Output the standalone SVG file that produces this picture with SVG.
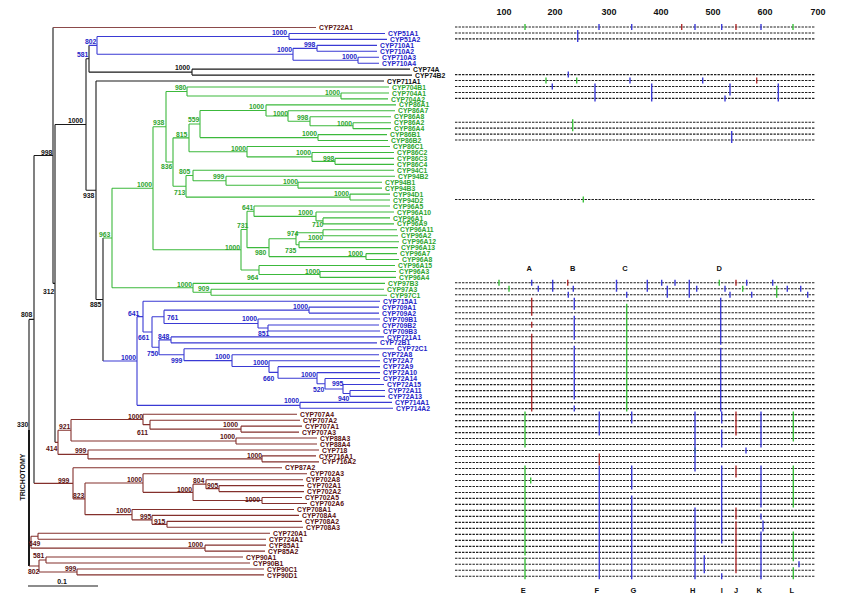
<svg xmlns="http://www.w3.org/2000/svg" width="850" height="599" viewBox="0 0 850 599">
<style>
path{fill:none;stroke-width:1.1}
.k{stroke:#1a1a1a}.b{stroke:#3a3ad4}.g{stroke:#3cb93c}.r{stroke:#84302c}.c{stroke:#8b4a4a}
text{font-family:'Liberation Sans',Arial,sans-serif;font-weight:bold}
.l{font-size:6.8px}.s{font-size:6.8px}
.tb{fill:#2525c8}.tg{fill:#2ea52e}.tr{fill:#5a1010}.tk{fill:#111}
.row{stroke:#1e1e1e;stroke-width:1.5;stroke-dasharray:2.4 1.1}
.mg,.mb,.mr{stroke-width:1.4}
.mg{stroke:#3cc03c}.mb{stroke:#3d3dd8}.mr{stroke:#b03030}
</style>
<rect width="850" height="599" fill="#fff"/>
<g id="connectors">
<path class="k" d="M29,319.4V566 M29,319.4H34 M34,155.5V483.3 M34,155.5H53 M53,27.5V283.4 M53,283.4H55 M55,124.5V442.3 M55,124.5H86 M86,58.7V190.3 M86,58.7H89 M89,45.35V72.13 M89,72.13H192 M192,69.15V75.1 M192,69.15H410 M192,75.1H412 M86,190.3H96 M96,81.05V299.5 M96,81.05H384 M96,299.5H103 M103,238V361"/>
<path class="k" d="M29,430V566" style="stroke-width:2"/>
<path class="c" d="M53,27.5H316"/>
<path class="b" d="M89,45.35H97 M97,36.43V54.28 M97,36.43H289 M289,33.45V39.4 M289,33.45H385 M289,39.4H387 M97,54.28H293 M293,48.33V60.23 M293,48.33H317 M317,45.35V51.3 M317,45.35H377 M317,51.3H377 M293,60.23H358 M358,57.25V63.2 M358,57.25H379 M358,63.2H379"/>
<path class="g" d="M103,238H112 M112,188.23V287.81 M112,188.23H153 M153,126.77V249.7 M153,126.77H166 M166,91.46V162.07 M166,91.46H187 M187,87V95.93 M187,87H389 M187,95.93H341 M341,92.95V98.9 M341,92.95H389 M341,98.9H388 M166,162.07H173 M173,137.85V186.29 M173,137.85H189 M189,124V151.71 M189,124H200 M200,110.43V137.58 M200,110.43H266 M266,104.85V116 M266,104.85H396 M266,116H288 M288,110.8V121.21 M288,110.8H395 M288,121.21H310 M310,116.75V125.68 M310,116.75H391 M310,125.68H353 M353,122.7V128.65 M353,122.7H391 M353,128.65H391 M200,137.58H318 M318,134.6V140.55 M318,134.6H387 M318,140.55H388 M189,151.71H247 M247,146.5V156.91 M247,146.5H390 M247,156.91H312 M312,152.45V161.38 M312,152.45H394 M312,161.38H335 M335,158.4V164.35 M335,158.4H394 M335,164.35H394 M173,186.29H186 M186,175.5V197.08 M186,175.5H193 M193,170.3V180.71 M193,170.3H394 M193,180.71H226 M226,176.25V185.18 M226,176.25H395 M226,185.18H298 M298,182.2V188.15 M298,182.2H382 M298,188.15H382 M186,197.08H350 M350,194.1V200.05 M350,194.1H390 M350,200.05H390 M153,249.7H241 M241,229.43V269.96 M241,229.43H247 M247,211.2V247.65 M247,211.2H254 M254,206V216.41 M254,206H390 M254,216.41H316 M316,211.95V220.88 M316,211.95H394 M316,220.88H323 M323,217.9V223.85 M323,217.9H390 M323,223.85H394 M247,247.65H269 M269,238.73V256.58 M269,238.73H296 M296,232.78V244.68 M296,232.78H323 M323,229.8V235.75 M323,229.8H397 M323,235.75H398 M296,244.68H299 M299,241.7V247.65 M299,241.7H399 M299,247.65H398 M269,256.58H366 M366,253.6V259.55 M366,253.6H397 M366,259.55H399 M241,269.96H259 M259,265.5V274.43 M259,265.5H395 M259,274.43H320 M320,271.45V277.4 M320,271.45H396 M320,277.4H396 M112,287.81H193 M193,283.35V292.28 M193,283.35H385 M193,292.28H211 M211,289.3V295.25 M211,289.3H384 M211,295.25H387"/>
<path class="b" d="M103,361H137 M137,316.63V405.33 M137,316.63H143 M143,301.2V332.06 M143,301.2H380 M143,332.06H152 M152,316.82V347.3 M152,316.82H164 M164,310.13V323.51 M164,310.13H309 M309,307.15V313.1 M309,307.15H379 M309,313.1H379 M164,323.51H258 M258,319.05V327.98 M258,319.05H380 M258,327.98H268 M268,325V330.95 M268,325H379 M268,330.95H380 M152,347.3H159 M159,339.88V354.73 M159,339.88H171 M171,336.9V342.85 M171,336.9H384 M171,342.85H377 M159,354.73H184 M184,348.8V360.65 M184,348.8H394 M184,360.65H232 M232,354.75V366.56 M232,354.75H379 M232,366.56H269 M269,360.7V372.41 M269,360.7H380 M269,372.41H278 M278,366.65V378.18 M278,366.65H380 M278,378.18H317 M317,372.6V383.76 M317,372.6H380 M317,383.76H325 M325,378.55V388.96 M325,378.55H380 M325,388.96H343 M343,384.5V393.43 M343,384.5H384 M343,393.43H350 M350,390.45V396.4 M350,390.45H385 M350,396.4H385 M137,405.33H300 M300,402.35V408.3 M300,402.35H392 M300,408.3H393"/>
<path class="r" d="M55,442.33H58 M58,430.24V454.41 M58,430.24H71 M71,419.46V441.03 M71,419.46H143 M143,414.25V424.66 M143,414.25H297 M143,424.66H150 M150,420.2V429.13 M150,420.2H300 M150,429.13H241 M241,426.15V432.1 M241,426.15H302 M241,432.1H299 M71,441.03H236 M236,438.05V444 M236,438.05H317 M236,444H317 M58,454.41H88 M88,449.95V458.88 M88,449.95H319 M88,458.88H262 M262,455.9V461.85 M262,455.9H316 M262,461.85H319 M34,483.33H73 M73,467.8V498.85 M73,467.8H282 M73,498.85H85 M85,483.05V514.66 M85,483.05H143 M143,473.75V492.34 M143,473.75H307 M143,492.34H193 M193,484.16V500.53 M193,484.16H206 M206,479.7V488.63 M206,479.7H303 M206,488.63H219 M219,485.65V491.6 M219,485.65H304 M219,491.6H304 M193,500.53H262 M262,497.55V503.5 M262,497.55H302 M262,503.5H307 M85,514.66H132 M132,509.45V519.86 M132,509.45H294 M132,519.86H152 M152,515.4V524.33 M152,515.4H299 M152,524.33H167 M167,521.35V527.3 M167,521.35H302 M167,527.3H303 M29,542.18H31 M31,536.23V548.13 M31,536.23H38 M38,533.25V539.2 M38,533.25H270 M38,539.2H266 M31,548.13H205 M205,545.15V551.1 M205,545.15H266 M205,551.1H265 M29,566H39 M39,560.03V571.93 M39,560.03H46 M46,557.05V563 M46,557.05H243 M46,563H250 M39,571.93H77 M77,568.95V574.9 M77,568.95H264 M77,574.9H264"/>
<path class="k" d="M28,586H98"/>
</g>
<g id="leaves-top" class="l">
<text class="tr" x="319" y="30.1">CYP722A1</text>
<text class="tb" x="388" y="36.05">CYP51A1</text>
<text class="tb" x="390" y="42">CYP51A2</text>
<text class="tb" x="380" y="47.95">CYP710A1</text>
<text class="tb" x="380" y="53.9">CYP710A2</text>
<text class="tb" x="382" y="59.85">CYP710A3</text>
<text class="tb" x="382" y="65.8">CYP710A4</text>
<text class="tk" x="413" y="71.75">CYP74A</text>
<text class="tk" x="415" y="77.7">CYP74B2</text>
<text class="tk" x="387" y="83.65">CYP711A1</text>
</g>
<g id="leaves-green" class="l tg">
<text x="392" y="89.6">CYP704B1</text>
<text x="392" y="95.55">CYP704A1</text>
<text x="391" y="101.5">CYP704A2</text>
<text x="399" y="107.45">CYP86A1</text>
<text x="398" y="113.4">CYP86A7</text>
<text x="394" y="119.35">CYP86A8</text>
<text x="394" y="125.3">CYP86A2</text>
<text x="394" y="131.25">CYP86A4</text>
<text x="390" y="137.2">CYP86B1</text>
<text x="391" y="143.15">CYP86B2</text>
<text x="393" y="149.1">CYP86C1</text>
<text x="397" y="155.05">CYP86C2</text>
<text x="397" y="161">CYP86C3</text>
<text x="397" y="166.95">CYP86C4</text>
<text x="397" y="172.9">CYP94C1</text>
<text x="398" y="178.85">CYP94B2</text>
<text x="385" y="184.8">CYP94B1</text>
<text x="385" y="190.75">CYP94B3</text>
<text x="393" y="196.7">CYP94D1</text>
<text x="393" y="202.65">CYP94D2</text>
<text x="393" y="208.6">CYP96A5</text>
<text x="397" y="214.55">CYP96A10</text>
<text x="393" y="220.5">CYP96A1</text>
<text x="397" y="226.45">CYP96A9</text>
<text x="400" y="232.4">CYP96A11</text>
<text x="401" y="238.35">CYP96A2</text>
<text x="402" y="244.3">CYP96A12</text>
<text x="401" y="250.25">CYP96A13</text>
<text x="400" y="256.2">CYP96A7</text>
<text x="402" y="262.15">CYP96A8</text>
<text x="398" y="268.1">CYP96A15</text>
<text x="399" y="274.05">CYP96A3</text>
<text x="399" y="280">CYP96A4</text>
<text x="388" y="285.95">CYP97B3</text>
<text x="387" y="291.9">CYP97A3</text>
<text x="390" y="297.85">CYP97C1</text>
</g>
<g id="leaves-blue" class="l tb">
<text x="383" y="303.8">CYP715A1</text>
<text x="382" y="309.75">CYP709A1</text>
<text x="382" y="315.7">CYP709A2</text>
<text x="383" y="321.65">CYP709B1</text>
<text x="382" y="327.6">CYP709B2</text>
<text x="383" y="333.55">CYP709B3</text>
<text x="387" y="339.5">CYP721A1</text>
<text x="380" y="345.45">CYP72B1</text>
<text x="397" y="351.4">CYP72C1</text>
<text x="382" y="357.35">CYP72A8</text>
<text x="383" y="363.3">CYP72A7</text>
<text x="383" y="369.25">CYP72A9</text>
<text x="383" y="375.2">CYP72A10</text>
<text x="383" y="381.15">CYP72A14</text>
<text x="387" y="387.1">CYP72A15</text>
<text x="388" y="393.05">CYP72A11</text>
<text x="388" y="399">CYP72A13</text>
<text x="395" y="404.95">CYP714A1</text>
<text x="396" y="410.9">CYP714A2</text>
</g>
<g id="leaves-brown" class="l tr">
<text x="300" y="416.85">CYP707A4</text>
<text x="303" y="422.8">CYP707A2</text>
<text x="305" y="428.75">CYP707A1</text>
<text x="302" y="434.7">CYP707A3</text>
<text x="320" y="440.65">CYP88A3</text>
<text x="320" y="446.6">CYP88A4</text>
<text x="322" y="452.55">CYP718</text>
<text x="319" y="458.5">CYP716A1</text>
<text x="322" y="464.45">CYP716A2</text>
<text x="285" y="470.4">CYP87A2</text>
<text x="310" y="476.35">CYP702A3</text>
<text x="306" y="482.3">CYP702A8</text>
<text x="307" y="488.25">CYP702A1</text>
<text x="307" y="494.2">CYP702A2</text>
<text x="305" y="500.15">CYP702A5</text>
<text x="310" y="506.1">CYP702A6</text>
<text x="297" y="512.05">CYP708A1</text>
<text x="302" y="518">CYP708A4</text>
<text x="305" y="523.95">CYP708A2</text>
<text x="306" y="529.9">CYP708A3</text>
<text x="273" y="535.85">CYP720A1</text>
<text x="269" y="541.8">CYP724A1</text>
<text x="269" y="547.75">CYP85A1</text>
<text x="268" y="553.7">CYP85A2</text>
<text x="246" y="559.65">CYP90A1</text>
<text x="253" y="565.6">CYP90B1</text>
<text x="267" y="571.55">CYP90C1</text>
<text x="267" y="577.5">CYP90D1</text>
</g>
<g id="bootstrap" class="s">
<g class="tk">
<text x="68" y="122.5">1000</text><text x="41" y="154.5">998</text><text x="175" y="69.5">1000</text><text x="83" y="197.5">938</text>
<text x="90" y="306.5">885</text><text x="43" y="293.5">312</text><text x="21" y="316.5">808</text><text x="17" y="426.5">330</text>
</g>
<g class="tb">
<text x="85" y="43.5">802</text><text x="77" y="56.5">581</text><text x="272" y="34.5">1000</text><text x="304" y="46.5">998</text><text x="277" y="51.5">1000</text><text x="342" y="58.5">1000</text>
<text x="121" y="359.5">1000</text><text x="128" y="315.5">641</text><text x="167" y="319.5">761</text><text x="138" y="339.5">661</text><text x="158" y="338.5">848</text><text x="147" y="355.5">750</text><text x="171" y="362.5">999</text>
<text x="293" y="308.5">1000</text><text x="242" y="320.5">1000</text><text x="258" y="335.5">851</text><text x="215" y="358.5">1000</text><text x="253" y="364.5">1000</text><text x="263" y="380.5">660</text><text x="301" y="376.5">1000</text><text x="332" y="385.5">995</text><text x="313" y="391.5">520</text><text x="338" y="400.5">940</text><text x="284" y="402.5">1000</text>
</g>
<g class="tg">
<text x="175" y="89.5">980</text><text x="325" y="94.5">1000</text><text x="153" y="124.5">938</text><text x="188" y="121.5">559</text><text x="176" y="136.5">815</text><text x="161" y="168.5">836</text><text x="179" y="173.5">805</text><text x="174" y="194.5">713</text>
<text x="249" y="108.5">1000</text><text x="273" y="115.5">1000</text><text x="297" y="119.5">998</text><text x="337" y="125.5">1000</text><text x="302" y="135.5">1000</text><text x="231" y="150.5">1000</text><text x="296" y="154.5">1000</text><text x="323" y="160.5">998</text>
<text x="213" y="178.5">999</text><text x="283" y="183.5">1000</text><text x="334" y="195.5">1000</text><text x="137" y="186.5">1000</text><text x="99" y="236.5">963</text><text x="225" y="249.5">1000</text>
<text x="242" y="209.5">641</text><text x="298" y="214.5">1000</text><text x="312" y="226.5">710</text><text x="237" y="227.5">731</text><text x="287" y="235.5">974</text><text x="308" y="239.5">1000</text><text x="255" y="254.5">980</text><text x="285" y="252.5">735</text><text x="348" y="255.5">1000</text>
<text x="247" y="279.5">964</text><text x="305" y="273.5">1000</text><text x="177" y="286.5">1000</text><text x="198" y="290.5">909</text>
</g>
<g class="tr">
<text x="128" y="418.5">1000</text><text x="137" y="434.5">611</text><text x="223" y="426.5">1000</text><text x="59" y="428.5">921</text><text x="220" y="438.5">1000</text><text x="46" y="450.5">414</text><text x="75" y="452.5">999</text><text x="247" y="457.5">1000</text>
<text x="58" y="482.5">999</text><text x="127" y="481.5">1000</text><text x="193" y="482.5">804</text><text x="207" y="487.5">905</text><text x="177" y="491.5">1000</text><text x="73" y="497.5">823</text><text x="245" y="501.5">1000</text>
<text x="116" y="512.5">1000</text><text x="140" y="518.5">995</text><text x="154" y="523.5">915</text><text x="29" y="545.5">649</text><text x="188" y="546.5">1000</text><text x="33" y="557.5">581</text><text x="28" y="573.5">802</text><text x="65" y="570.5">999</text>
</g>
</g>
<g id="legend" class="tk">
<text x="22" y="477" font-size="7" text-anchor="middle" transform="rotate(-90 22 477)" dy="2.5">TRICHOTOMY</text>
<text x="62" y="584" font-size="7" text-anchor="middle">0.1</text>
</g>
<g id="axis" class="tk" font-size="9" text-anchor="middle">
<text x="504" y="15">100</text><text x="555" y="15">200</text><text x="609" y="15">300</text><text x="661" y="15">400</text><text x="713" y="15">500</text><text x="765" y="15">600</text><text x="818" y="15">700</text>
</g>
<g id="rows-top" class="row">
<path d="M455,27H815 M455,32.95H815 M455,38.9H815 M455,74.6H815 M455,80.55H815 M455,86.5H815 M455,92.45H815 M455,98.4H815 M455,122.2H815 M455,128.15H815 M455,134.1H815 M455,140.05H815 M455,199.55H815"/>
</g>
<g id="rows-bottom" class="row">
<path d="M455,282.8H815 M455,288.8H815 M455,294.8H815 M455,300.8H815 M455,306.8H815 M455,312.8H815 M455,318.7H815 M455,324.7H815 M455,330.7H815 M455,336.7H815 M455,342.7H815 M455,348.7H815 M455,354.7H815 M455,360.7H815 M455,366.7H815 M455,372.7H815 M455,378.6H815 M455,384.6H815 M455,390.6H815 M455,396.6H815 M455,402.6H815 M455,408.6H815 M455,414.6H815 M455,420.6H815 M455,426.6H815 M455,432.6H815 M455,438.5H815 M455,444.5H815 M455,450.5H815 M455,456.5H815 M455,462.5H815 M455,468.5H815 M455,474.5H815 M455,480.5H815 M455,486.5H815 M455,492.5H815 M455,498.4H815 M455,504.4H815 M455,510.4H815 M455,516.4H815 M455,522.4H815 M455,528.4H815 M455,534.4H815 M455,540.4H815 M455,546.4H815 M455,552.4H815 M455,558.3H815 M455,564.3H815 M455,570.3H815 M455,576.3H815"/>
</g>
<g id="markers-top">
<path class="mg" d="M525,24V30 M793,24V30 M546,77.5V83.5 M576.7,77.5V83.5 M572.7,119.2V131.2 M583.3,196.5V202.5"/>
<path class="mb" d="M599,24V30 M631.7,24V30 M695,24V30 M721.7,24V30 M761,24V30 M577.7,30V42 M568.3,71.6V77.6 M630,77.5V83.5 M702.7,77.5V83.5 M552.3,83.5V89.5 M595,83.5V101.4 M651.7,83.5V101.4 M730,83.5V95.4 M725,95.4V101.4 M778.3,83.5V101.4 M731.7,131.1V143"/>
<path class="mr" d="M681.7,24V30 M736,24V30 M756.7,77.5V83.5"/>
</g>
<g id="markers-bottom">
<path class="mg" d="M499,279.8V285.8 M719.3,279.8V285.8 M509,285.8V291.8 M742.7,285.8V291.8 M776.7,285.8V297.8 M626.7,303.8V411.6 M525,411.6V447.5 M525,465.5V555.4 M525,557.3V579.3 M530.7,477.5V483.5 M695,447.5V453.5 M793.3,411.6V441.5 M793.3,465.5V507.4 M793.3,531.4V561.3 M793.3,567.3V579.3"/>
<path class="mb" d="M531.7,279.8V285.8 M552.7,279.8V291.8 M616.5,279.8V291.8 M647.3,279.8V291.8 M661.7,279.8V285.8 M675,279.8V285.8 M689.3,279.8V297.8 M746.7,279.8V285.8 M772.7,279.8V285.8 M538.3,285.8V291.8 M573.3,285.8V291.8 M667.3,285.8V297.8 M696.7,285.8V291.8 M725,285.8V291.8 M787.3,285.8V291.8 M800.7,285.8V291.8 M568.3,291.8V297.8 M626.7,291.8V297.8 M730,291.8V297.8 M751.7,291.8V297.8 M807.7,291.8V297.8 M574.3,297.8V309.8 M574.3,315.7V339.7 M574.3,345.7V399.6 M574.3,405.6V411.6 M720.7,297.8V344.7 M720.7,347.7V411.6 M721.7,411.6V423.6 M721.7,429.6V447.5 M721.7,465.5V543.4 M721.7,573.3V579.3 M599.3,411.6V435.6 M599.3,465.5V579.3 M631.7,411.6V423.6 M631.7,465.5V489.5 M631.7,495.4V579.3 M695,411.6V471.5 M695,507.4V579.3 M704.3,555.3V573.3 M746,447.5V453.5 M761,411.6V447.5 M761,465.5V507.4 M761,513.4V519.4 M763,520.4V531.4 M761,531.4V579.3 M799,561.3V567.3"/>
<path class="mr" d="M567.7,279.8V285.8 M736,279.8V285.8 M531.7,297.8V315.8 M531.7,321.7V327.7 M531.7,333.7V411.6 M599.3,453.5V465.5 M736,411.6V435.6 M736,465.5V477.5 M736,507.4V519.4 M736,521.4V573.3"/>
</g>
<g id="column-labels" class="tk" font-size="7.5" text-anchor="middle">
<text x="529.3" y="271">A</text><text x="572.7" y="271">B</text><text x="625" y="271">C</text><text x="719.3" y="271">D</text>
<text x="523.3" y="593">E</text><text x="596.7" y="593">F</text><text x="633.3" y="593">G</text><text x="692.7" y="593">H</text><text x="721.7" y="593">I</text><text x="736" y="593">J</text><text x="759.3" y="593">K</text><text x="791.7" y="593">L</text>
</g>
</svg>
